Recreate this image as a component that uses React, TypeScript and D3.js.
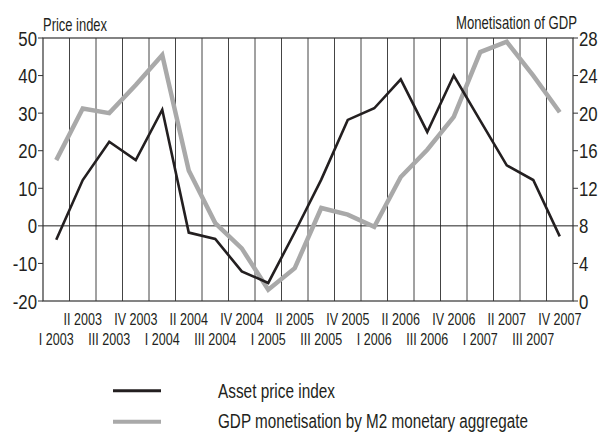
import React from "react";
import * as d3 from "d3";

const quarters = [
  "I 2003", "II 2003", "III 2003", "IV 2003",
  "I 2004", "II 2004", "III 2004", "IV 2004",
  "I 2005", "II 2005", "III 2005", "IV 2005",
  "I 2006", "II 2006", "III 2006", "IV 2006",
  "I 2007", "II 2007", "III 2007", "IV 2007",
];
const priceIndex = [-3.7, 12.2, 22.4, 17.5, 30.9, -1.8, -3.5, -12.1, -15.2, -1.7, 12.3, 28.2, 31.3, 39.0, 25.0, 40.0, 28.0, 16.1, 12.2, -2.8];
const monetisation = [15.0, 20.5, 20.0, 23.0, 26.2, 13.9, 8.3, 5.6, 1.2, 3.5, 9.9, 9.2, 7.9, 13.2, 16.1, 19.6, 26.5, 27.6, 24.0, 20.1];
const leftTicks = [-20, -10, 0, 10, 20, 30, 40, 50];
const rightTicks = [0, 4, 8, 12, 16, 20, 24, 28];
const leftTitle = "Price index";
const rightTitle = "Monetisation of GDP";
const legendItems = ["Asset price index", "GDP monetisation by M2 monetary aggregate"];

const FONT = "'Liberation Sans', Arial, sans-serif";
const BLACK = "#231f20";
const GRAY = "#a9a9a9";
const INK = "#231f20";

type TP = { x: number; y: number; size: number; sx?: number; anchor?: "start" | "middle" | "end"; dy?: string; children: React.ReactNode; len?: number };
function T({ x, y, size, sx = 0.8, anchor = "start", dy, children, len }: TP) {
  return (
    <g transform={`translate(${x},${y}) scale(${sx},1)`}>
      <text x={0} y={0} dy={dy} fontSize={size} textAnchor={anchor} fill={INK}
        textLength={len ? len / sx : undefined} lengthAdjust={len ? "spacingAndGlyphs" : undefined}>
        {children}
      </text>
    </g>
  );
}

export default function App() {
  const L = 43, R = 573, Tp = 38, B = 301;
  const x = d3.scaleBand<string>().domain(quarters).range([L, R]);
  const yL = d3.scaleLinear().domain([-20, 50]).range([B, Tp]);
  const yR = d3.scaleLinear().domain([0, 28]).range([B, Tp]);
  const cx = (q: string) => (x(q) as number) + x.bandwidth() / 2;

  const lineL = d3.line<number>().x((_, i) => cx(quarters[i])).y((d) => yL(d));
  const lineR = d3.line<number>().x((_, i) => cx(quarters[i])).y((d) => yR(d));

  const bounds = quarters.slice(1).map((q) => x(q) as number);

  return (
    <svg width={600} height={432} style={{ position: "absolute", left: 0, top: 0, background: "#fff" }} fontFamily={FONT}>
      <rect x={0} y={0} width={600} height={432} fill="#fff" />
      {bounds.map((bx, i) => (
        <line key={i} x1={bx} x2={bx} y1={Tp} y2={B} stroke="#444" strokeWidth={1} />
      ))}
      <line x1={L} x2={R} y1={yL(0)} y2={yL(0)} stroke="#222" strokeWidth={1} />
      <rect x={L} y={Tp} width={R - L} height={B - Tp} fill="none" stroke="#333" strokeWidth={1.2} />

      {leftTicks.map((t) => (
        <g key={"l" + t}>
          <line x1={L - 5} x2={L} y1={yL(t)} y2={yL(t)} stroke="#333" strokeWidth={1} />
          <T x={L - 6} y={yL(t)} dy="0.36em" anchor="end" size={21} sx={0.8}>{t}</T>
        </g>
      ))}
      {rightTicks.map((t) => (
        <g key={"r" + t}>
          <line x1={R} x2={R + 5} y1={yR(t)} y2={yR(t)} stroke="#333" strokeWidth={1} />
          <T x={R + 6} y={yR(t)} dy="0.36em" anchor="start" size={21} sx={0.8}>{t}</T>
        </g>
      ))}
      <T x={L} y={31} size={18} len={64}>{leftTitle}</T>
      <T x={577} y={29} size={18} anchor="end" len={121}>{rightTitle}</T>

      {quarters.map((q, i) => (
        <T key={q} x={cx(q)} y={i % 2 === 1 ? 325 : 345} anchor="middle" size={16.5} sx={0.76}>{q}</T>
      ))}

      <path d={lineR(monetisation) || ""} fill="none" stroke={GRAY} strokeWidth={4.5} strokeLinejoin="miter" />
      <path d={lineL(priceIndex) || ""} fill="none" stroke={BLACK} strokeWidth={2.6} strokeLinejoin="miter" />

      <line x1={113} x2={161} y1={390.7} y2={390.7} stroke={BLACK} strokeWidth={3} />
      <line x1={113} x2={161} y1={421.7} y2={421.7} stroke={GRAY} strokeWidth={4} />
      <T x={218} y={398} size={20} len={117}>{legendItems[0]}</T>
      <T x={218} y={428} size={20} len={310}>{legendItems[1]}</T>
    </svg>
  );
}
